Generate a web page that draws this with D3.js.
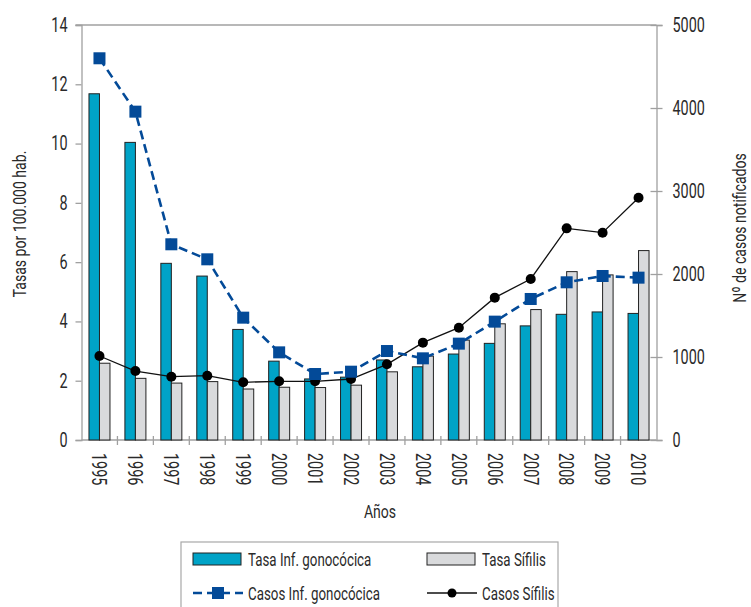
<!DOCTYPE html>
<html><head><meta charset="utf-8">
<script src="https://cdn.jsdelivr.net/npm/d3@7"></script>
<style>
body{margin:0;background:#fff;}
text{font-family:Roboto,"DejaVu Sans",sans-serif;font-weight:400;fill:#2a2a2a;}
</style></head><body>
<svg id="chart" width="751" height="607"></svg>
<script>
const years = ["1995","1996","1997","1998","1999","2000","2001","2002","2003","2004","2005","2006","2007","2008","2009","2010"];
const tasaGono = [11.68,10.04,5.96,5.53,3.73,2.66,2.06,2.12,2.70,2.47,2.90,3.26,3.85,4.24,4.32,4.27];
const tasaSifilis = [2.59,2.08,1.92,1.97,1.72,1.78,1.77,1.85,2.30,2.83,3.37,3.92,4.40,5.68,5.57,6.39];
const casosGono = [4599,3956,2358,2177,1474,1056,795,823,1072,984,1161,1426,1699,1900,1976,1956];
const casosSifilis = [1012,831,763,775,695,707,707,735,912,1173,1353,1715,1940,2550,2498,2919];
const leftTicks = [0,2,4,6,8,10,12,14];
const rightTicks = [0,1000,2000,3000,4000,5000];

const svg = d3.select("#chart");
const L = 81.5, R = 656.5, T = 25, B = 440;
const x = d3.scaleBand().domain(years).range([L, R]).paddingInner(0).paddingOuter(0);
const yL = d3.scaleLinear().domain([0,14]).range([B, T]);
const yR = d3.scaleLinear().domain([0,5000]).range([B, T]);
const axisCol = "#a0a0a0";
const barW = 10.5;

function condense(sel, f) {
  sel.each(function() {
    const len = this.getComputedTextLength();
    d3.select(this).attr("textLength", len * f).attr("lengthAdjust", "spacingAndGlyphs");
  });
}

// top frame line
svg.append("line").attr("x1", L-6).attr("x2", R).attr("y1", T).attr("y2", T)
  .attr("stroke", axisCol).attr("stroke-width", 1.3);

// left axis
const gL = svg.append("g").attr("transform", `translate(${L},0)`)
  .call(d3.axisLeft(yL).tickValues(leftTicks).tickSize(6).tickPadding(8));
// right axis
const gR = svg.append("g").attr("transform", `translate(${R},0)`)
  .call(d3.axisRight(yR).tickValues(rightTicks).tickFormat(d3.format("d")).tickSize(6).tickPadding(10));
gR.selectAll(".tick line").attr("x1", -6);
// bottom axis
const gB = svg.append("g").attr("transform", `translate(0,${B})`)
  .call(d3.axisBottom(x).tickSize(0).tickPadding(0));
[gL, gR, gB].forEach(g => {
  g.select(".domain").attr("stroke", axisCol).attr("stroke-width", 1.3);
  g.selectAll(".tick line").attr("stroke", axisCol).attr("stroke-width", 1.3);
  g.selectAll("text").style("font-size", "20px").style("font-family", null).attr("fill", "#2a2a2a");
});
gB.select(".domain").attr("d", `M${L},0H${R}`);
gB.selectAll(".tick text")
  .attr("transform", "rotate(90)")
  .attr("x", 13).attr("y", 0).attr("dy", "0.36em")
  .style("text-anchor", "start");
[gL, gR, gB].forEach(g => condense(g.selectAll(".tick text"), 0.72));
// bottom boundary ticks
const bounds = years.map(y => x(y)).concat([R]);
svg.append("g").selectAll("line").data(bounds.slice(1, -1)).join("line")
  .attr("x1", d => d).attr("x2", d => d).attr("y1", B-4).attr("y2", B+5)
  .attr("stroke", axisCol).attr("stroke-width", 1.3);

// bars
const cx = d => x(d) + x.bandwidth()/2;
svg.append("g").selectAll("rect").data(years).join("rect")
  .attr("x", (d) => cx(d) - barW).attr("width", barW)
  .attr("y", (d,i) => yL(tasaGono[i])).attr("height", (d,i) => B - yL(tasaGono[i]))
  .attr("fill", "#00a3c7").attr("stroke", "#222").attr("stroke-width", 1);
svg.append("g").selectAll("rect").data(years).join("rect")
  .attr("x", (d) => cx(d)).attr("width", barW)
  .attr("y", (d,i) => yL(tasaSifilis[i])).attr("height", (d,i) => B - yL(tasaSifilis[i]))
  .attr("fill", "#d9dadc").attr("stroke", "#222").attr("stroke-width", 1);

// lines
const blue = "#034a98";
const lineG = d3.line().x((d,i) => cx(years[i])).y(d => yR(d));
svg.append("path").datum(casosSifilis).attr("d", lineG)
  .attr("fill", "none").attr("stroke", "#111").attr("stroke-width", 1.3);
svg.append("g").selectAll("circle").data(casosSifilis).join("circle")
  .attr("cx", (d,i) => cx(years[i])).attr("cy", d => yR(d)).attr("r", 5)
  .attr("fill", "#000");
svg.append("path").datum(casosGono).attr("d", lineG)
  .attr("fill", "none").attr("stroke", blue).attr("stroke-width", 2.6)
  .attr("stroke-dasharray", "9,5");
const sq = 12;
svg.append("g").selectAll("rect").data(casosGono).join("rect")
  .attr("x", (d,i) => cx(years[i]) - sq/2).attr("y", d => yR(d) - sq/2)
  .attr("width", sq).attr("height", sq).attr("fill", blue);

// axis titles
const t1 = svg.append("text").attr("transform", "translate(26,224) rotate(-90)")
  .attr("text-anchor", "middle").style("font-size", "19px").text("Tasas por 100.000 hab.");
const t2 = svg.append("text").attr("transform", "translate(746,228) rotate(-90)")
  .attr("text-anchor", "middle").style("font-size", "19px").text("Nº de casos notificados");
const t3 = svg.append("text").attr("x", 380).attr("y", 518)
  .attr("text-anchor", "middle").style("font-size", "19px").text("Años");
[t1, t2, t3].forEach(t => condense(t, 0.74));

// legend
const lg = svg.append("g");
lg.append("rect").attr("x", 181).attr("y", 542).attr("width", 377).attr("height", 80)
  .attr("fill", "#fff").attr("stroke", "#a8a8a8").attr("stroke-width", 1.2);
const legItems = [
  {label:"Tasa Inf. gonocócica", type:"bar", fill:"#00a3c7", x:193, y:559},
  {label:"Tasa Sífilis", type:"bar", fill:"#d9dadc", x:427, y:559},
  {label:"Casos Inf. gonocócica", type:"gono", x:193, y:593},
  {label:"Casos Sífilis", type:"sif", x:427, y:593}
];
legItems.forEach(it => {
  if (it.type === "bar") {
    lg.append("rect").attr("x", it.x).attr("y", it.y-6).attr("width", 48).attr("height", 12)
      .attr("fill", it.fill).attr("stroke", "#222").attr("stroke-width", 1);
  } else if (it.type === "gono") {
    lg.append("line").attr("x1", it.x).attr("x2", it.x+50).attr("y1", it.y).attr("y2", it.y)
      .attr("stroke", blue).attr("stroke-width", 2.4).attr("stroke-dasharray", "9,5");
    lg.append("rect").attr("x", it.x+19).attr("y", it.y-6).attr("width", 12).attr("height", 12).attr("fill", blue);
  } else {
    lg.append("line").attr("x1", it.x).attr("x2", it.x+50).attr("y1", it.y).attr("y2", it.y)
      .attr("stroke", "#111").attr("stroke-width", 1.3);
    lg.append("circle").attr("cx", it.x+25).attr("cy", it.y).attr("r", 4.5).attr("fill", "#000");
  }
  const tx = lg.append("text").attr("x", it.x+55).attr("y", it.y).attr("dy", "0.36em")
    .style("font-size", "18.5px").text(it.label);
  condense(tx, 0.72);
});
</script></body></html>
